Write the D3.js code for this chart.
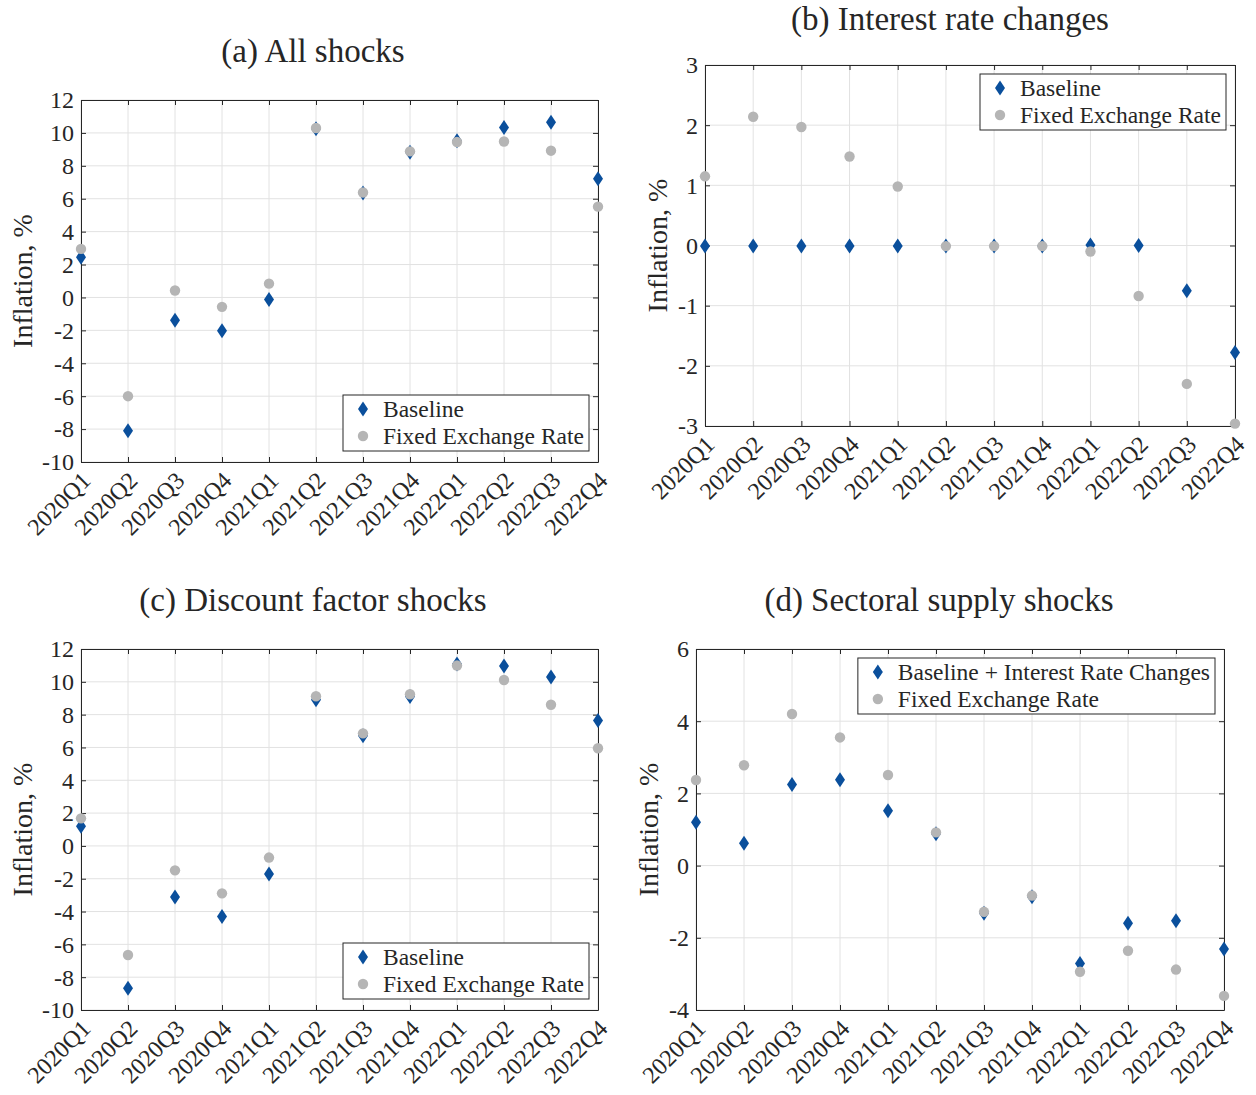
<!DOCTYPE html>
<html>
<head>
<meta charset="utf-8">
<script src="https://cdn.jsdelivr.net/npm/d3@7"></script>
<style>
  body { margin: 0; background: #fff; }
  svg { display: block; }
  text { font-family: "Liberation Serif", "DejaVu Serif", serif; fill: #262626; }
</style>
</head>
<body>
<svg id="fig" width="1256" height="1095"></svg>
<script>
// Quarterly inflation under two exchange-rate regimes, four shock decompositions.
const quarters = ["2020Q1", "2020Q2", "2020Q3", "2020Q4", "2021Q1", "2021Q2",
                  "2021Q3", "2021Q4", "2022Q1", "2022Q2", "2022Q3", "2022Q4"];

const allShocksBaseline = [2.45, -8.1, -1.38, -2.03, -0.12, 10.25, 6.35, 8.82, 9.52, 10.33, 10.65, 7.22];
const allShocksFixed    = [2.95, -6.0, 0.42, -0.57, 0.84, 10.3, 6.38, 8.88, 9.45, 9.48, 8.92, 5.52];

const rateBaseline = [-0.01, -0.01, -0.01, -0.01, -0.01, -0.01, -0.01, -0.01, 0.01, 0.0, -0.75, -1.78];
const rateFixed    = [1.15, 2.14, 1.97, 1.48, 0.98, -0.01, -0.01, -0.01, -0.1, -0.84, -2.3, -2.96];

const discountBaseline = [1.2, -8.67, -3.12, -4.3, -1.71, 8.9, 6.72, 9.1, 11.08, 10.96, 10.3, 7.65];
const discountFixed    = [1.68, -6.65, -1.49, -2.89, -0.71, 9.12, 6.86, 9.24, 10.99, 10.11, 8.6, 5.95];

const supplyBaseline = [1.2, 0.62, 2.25, 2.38, 1.52, 0.88, -1.32, -0.86, -2.71, -1.6, -1.53, -2.31];
const supplyFixed    = [2.37, 2.78, 4.2, 3.55, 2.51, 0.92, -1.28, -0.83, -2.94, -2.36, -2.88, -3.61];

const panelTitles = ["(a) All shocks", "(b) Interest rate changes",
                     "(c) Discount factor shocks", "(d) Sectoral supply shocks"];
const yDomains = [[-10, 12], [-3, 3], [-10, 12], [-4, 6]];
const yTicks = [
  [-10, -8, -6, -4, -2, 0, 2, 4, 6, 8, 10, 12],
  [-3, -2, -1, 0, 1, 2, 3],
  [-10, -8, -6, -4, -2, 0, 2, 4, 6, 8, 10, 12],
  [-4, -2, 0, 2, 4, 6]
];
const baselineNames = ["Baseline", "Baseline", "Baseline", "Baseline + Interest Rate Changes"];
const fixedName = "Fixed Exchange Rate";
const yAxisLabel = "Inflation, %";

const baselineSeries = [allShocksBaseline, rateBaseline, discountBaseline, supplyBaseline];
const fixedSeries = [allShocksFixed, rateFixed, discountFixed, supplyFixed];

// Placement of each axes box on the figure
const layout = [
  { left: 81,  right: 598,  top: 100, bottom: 462,  titleX: 313, titleY: 62,  labelX: 22,  legend: "bottom" },
  { left: 705, right: 1235, top: 65,  bottom: 426,  titleX: 950, titleY: 30,  labelX: 657, legend: "top" },
  { left: 81,  right: 598,  top: 649, bottom: 1010, titleX: 313, titleY: 611, labelX: 22,  legend: "bottom" },
  { left: 696, right: 1224, top: 649, bottom: 1010, titleX: 939, titleY: 611, labelX: 648, legend: "top" }
];

const BLUE = "#0a4f9c";
const GREY = "#b5b5b5";
const AXIS = "#262626";
const GRID = "#e2e2e2";

const svg = d3.select("#fig");
const diamond = "M0,-7.5L5,0L0,7.5L-5,0Z";

layout.forEach((L, i) => {
  const x = d3.scalePoint().domain(quarters).range([L.left, L.right]);
  const y = d3.scaleLinear().domain(yDomains[i]).range([L.bottom, L.top]);
  const g = svg.append("g");

  // grid
  g.append("g").selectAll("line").data(quarters).join("line")
    .attr("x1", d => x(d)).attr("x2", d => x(d))
    .attr("y1", L.top).attr("y2", L.bottom)
    .attr("stroke", GRID).attr("stroke-width", 1);
  g.append("g").selectAll("line").data(yTicks[i]).join("line")
    .attr("x1", L.left).attr("x2", L.right)
    .attr("y1", d => y(d)).attr("y2", d => y(d))
    .attr("stroke", GRID).attr("stroke-width", 1);

  // axes: bottom / left carry labels, top / right mirror the inward ticks
  const tickLen = 5;
  const bottomAxis = d3.axisBottom(x).tickSizeInner(-tickLen).tickSizeOuter(0).tickFormat("");
  const topAxis = d3.axisTop(x).tickSizeInner(-tickLen).tickSizeOuter(0).tickFormat("");
  const leftAxis = d3.axisLeft(y).tickValues(yTicks[i]).tickSizeInner(-tickLen).tickSizeOuter(0).tickFormat("");
  const rightAxis = d3.axisRight(y).tickValues(yTicks[i]).tickSizeInner(-tickLen).tickSizeOuter(0).tickFormat("");

  const styleAxis = sel => {
    sel.selectAll("path,line").attr("stroke", AXIS).attr("stroke-width", 1);
  };
  g.append("g").attr("transform", `translate(0,${L.bottom})`).call(bottomAxis).call(styleAxis);
  g.append("g").attr("transform", `translate(0,${L.top})`).call(topAxis).call(styleAxis);
  g.append("g").attr("transform", `translate(${L.left},0)`).call(leftAxis).call(styleAxis);
  g.append("g").attr("transform", `translate(${L.right},0)`).call(rightAxis).call(styleAxis);

  // y tick labels
  g.append("g").selectAll("text").data(yTicks[i]).join("text")
    .attr("x", L.left - 7).attr("y", d => y(d)).attr("dy", "0.35em")
    .attr("text-anchor", "end").attr("font-size", 24)
    .text(d => d);

  // rotated quarter labels
  g.append("g").selectAll("text").data(quarters).join("text")
    .attr("transform", d => `translate(${x(d) + 5},${L.bottom + 14}) rotate(-45)`)
    .attr("dy", "0.35em")
    .attr("text-anchor", "end").attr("font-size", 24)
    .text(d => d);

  // y-axis label
  g.append("text")
    .attr("transform", `translate(${L.labelX},${(L.top + L.bottom) / 2}) rotate(-90)`)
    .attr("dy", "0.35em").attr("text-anchor", "middle").attr("font-size", 28)
    .text(yAxisLabel);

  // title
  g.append("text").attr("x", L.titleX).attr("y", L.titleY)
    .attr("text-anchor", "middle").attr("font-size", 33).attr("fill", "#000")
    .text(panelTitles[i]);

  // markers: baseline diamonds underneath, fixed-rate dots on top
  g.append("g").selectAll("path").data(baselineSeries[i]).join("path")
    .attr("d", diamond)
    .attr("transform", (d, j) => `translate(${x(quarters[j])},${y(d)})`)
    .attr("fill", BLUE);
  g.append("g").selectAll("circle").data(fixedSeries[i]).join("circle")
    .attr("cx", (d, j) => x(quarters[j])).attr("cy", d => y(d))
    .attr("r", 5.2).attr("fill", GREY);

  // legend
  const lg = g.append("g");
  const box = lg.append("rect").attr("fill", "#fff").attr("stroke", AXIS).attr("stroke-width", 1);
  const names = [baselineNames[i], fixedName];
  const rowH = 27;
  const textOff = 40, markOff = 20;
  const texts = lg.selectAll("text").data(names).join("text")
    .attr("x", textOff).attr("y", (d, k) => 14 + k * rowH).attr("dy", "0.35em")
    .attr("font-size", 23.5).attr("fill", "#000")
    .text(d => d);
  let maxW = 0;
  texts.each(function () { maxW = Math.max(maxW, this.getComputedTextLength()); });
  const bw = textOff + maxW + 5, bh = 56;
  box.attr("x", 0).attr("y", 0).attr("width", bw).attr("height", bh);
  lg.append("path").attr("d", diamond).attr("transform", `translate(${markOff},14)`).attr("fill", BLUE);
  lg.append("circle").attr("cx", markOff).attr("cy", 14 + rowH).attr("r", 5.2).attr("fill", GREY);
  const lx = L.right - 9 - bw;
  const ly = L.legend === "top" ? L.top + 9 : L.bottom - 11 - bh;
  lg.attr("transform", `translate(${lx},${ly})`);
});
</script>
</body>
</html>
